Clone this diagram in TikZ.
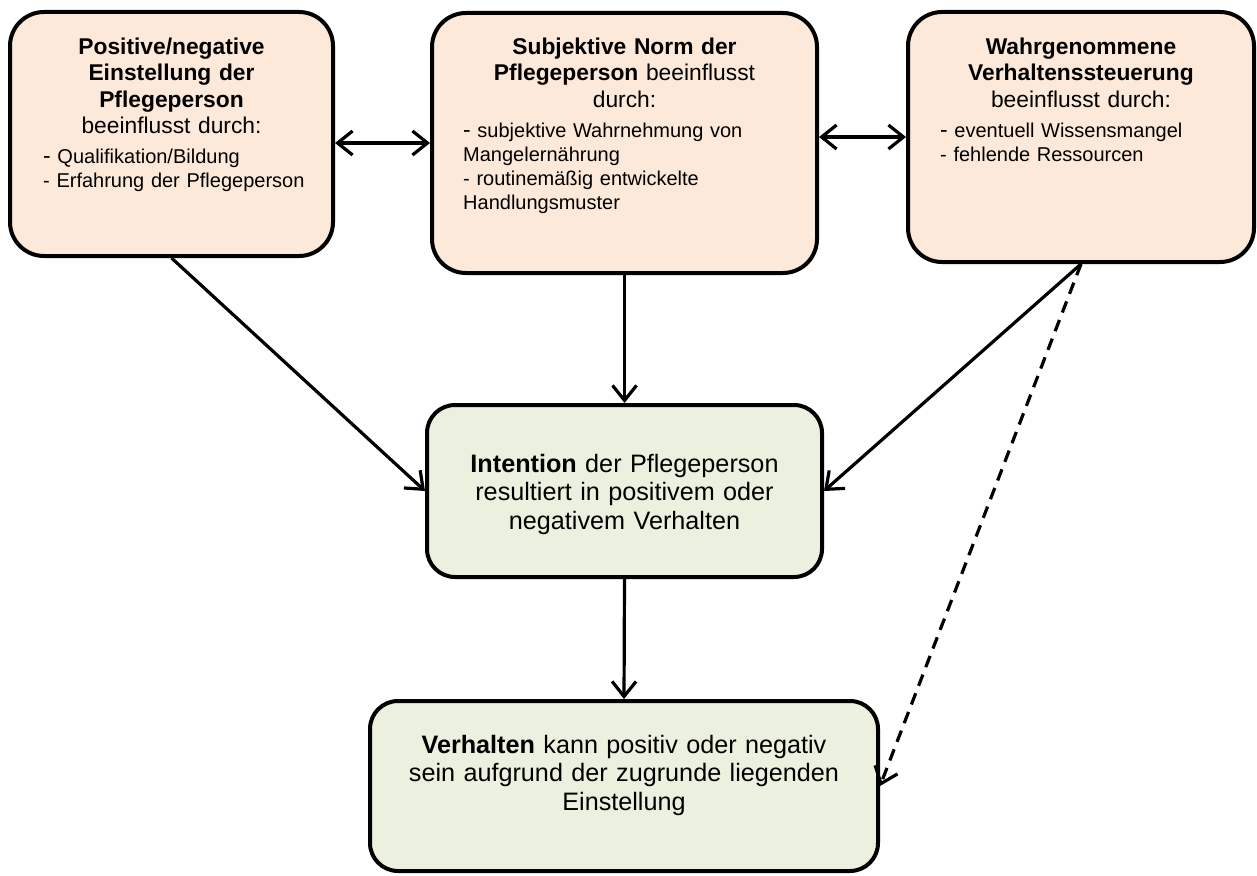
\documentclass[tikz,border=0pt]{standalone}
\usepackage{fontspec}
\setmainfont{Liberation Sans}
\usetikzlibrary{arrows.meta,positioning}
\definecolor{pinkfill}{HTML}{FDE9D9}
\definecolor{greenfill}{HTML}{EBF1DE}
\newcommand{\titlesize}{\fontsize{22.8}{26}\selectfont}
\newcommand{\listsize}{\fontsize{20}{24}\selectfont}
\newcommand{\mainsize}{\fontsize{25.2}{28.6}\selectfont}

\begin{document}
\begin{tikzpicture}[x=1pt,y=-1pt,>={Straight Barb[length=15pt,width=24pt]},
  box node/.style={draw,line width=4pt,rounded corners=34pt,inner sep=0pt},
  pink node/.style={box node,fill=pinkfill},
  green node/.style={box node,fill=greenfill,rounded corners=28pt},
  title node/.style={inner sep=0pt,text width=340pt,align=center,anchor=base,font=\titlesize},
  list node/.style={inner sep=0pt,text width=300pt,align=left,anchor=base west,font=\listsize},
  main text/.style={inner sep=0pt,text width=480pt,align=center,anchor=base,font=\mainsize}]
      \useasboundingbox (0,0) rectangle (1257,875);

      \node[pink node,minimum width=323pt,minimum height=244pt] (A) at (171.5,134) {};
      \node[pink node,minimum width=385pt,minimum height=260pt] (B) at (624.5,143) {};
      \node[pink node,minimum width=346pt,minimum height=250pt] (C) at (1081,137) {};
      \node[green node,minimum width=395pt,minimum height=172pt] (D) at (624.5,491) {};
      \node[green node,minimum width=508pt,minimum height=170pt] (E) at (624,786) {};

      \node[title node] (Atitle) at (171.5,55) {\textbf{Positive/negative}\\ \textbf{Einstellung der}\\ \textbf{Pflegeperson}\\ beeinflusst durch:};
      \node[list node] (Alist) at (43,163) {{\titlesize -} Qualifikation/Bildung\\ - Erfahrung der Pflegeperson};

      \node[title node] (Btitle) at (624.5,55) {\textbf{Subjektive Norm der}\\ \textbf{Pflegeperson} beeinflusst\\ durch:};
      \node[list node] (Blist) at (463,137) {{\titlesize -} subjektive Wahrnehmung von\\ Mangelernährung\\ - routinemäßig entwickelte\\ Handlungsmuster};

      \node[title node] (Ctitle) at (1081,55) {\textbf{Wahrgenommene}\\ \textbf{Verhaltenssteuerung}\\ beeinflusst durch:};
      \node[list node] (Clist) at (940,137) {{\titlesize -} eventuell Wissensmangel\\ - fehlende Ressourcen};

      \node[main text] (Dtext) at (624.5,472) {\textbf{Intention} der Pflegeperson\\ resultiert in positivem oder\\ negativem Verhalten};
      \node[main text] (Etext) at (624,753) {\textbf{Verhalten} kann positiv oder negativ\\ sein aufgrund der zugrunde liegenden\\ Einstellung};

      \path[line width=3.2pt]
        (A.east |- B.west) edge [<->] (B.west)
        (B.east |- C.west) edge [<->] (C.west)
        (A.south) edge [->] (D.west)
        (B.south) edge [->] (D.north)
        (C.south) edge [->] (D.east)
                  edge [->,dash pattern=on 12pt off 8pt] (E.east)
        (D.south) edge [->] (E.north);
    \end{tikzpicture}
\end{document}
